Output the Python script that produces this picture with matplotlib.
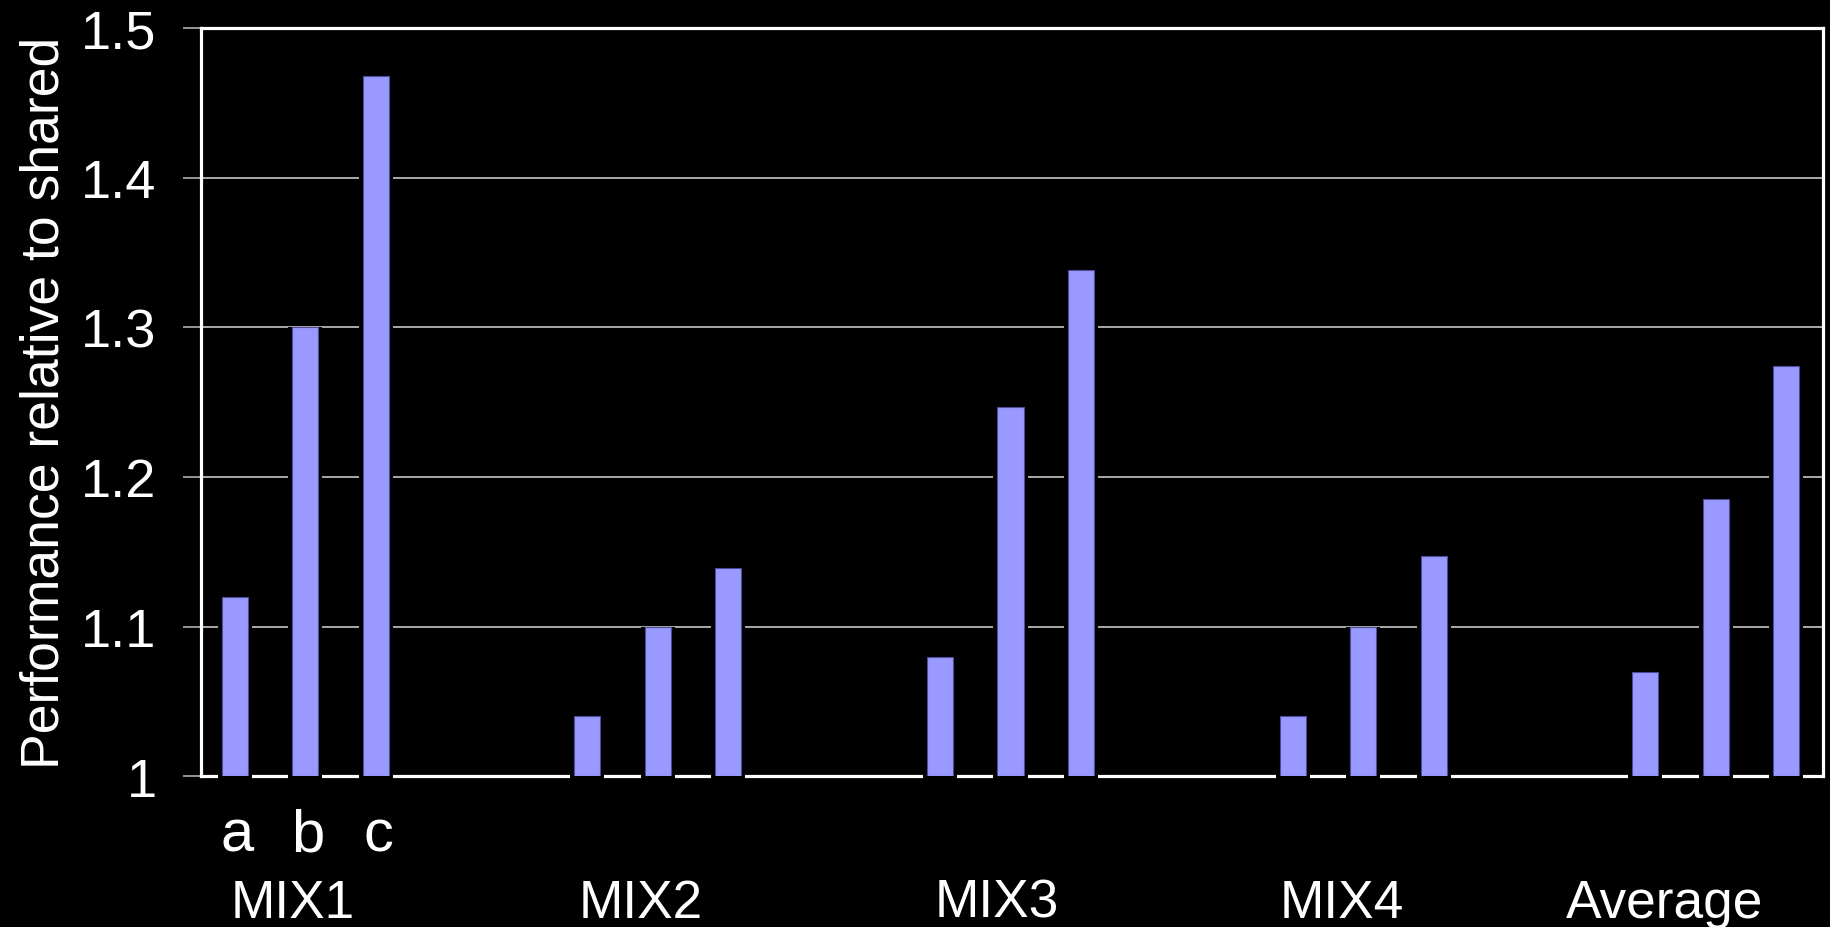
import matplotlib
matplotlib.use("Agg")
import matplotlib.pyplot as plt
import matplotlib.transforms as mtransforms
from matplotlib import font_manager
import numpy as np

# ---- data ----
categories = ["MIX1", "MIX2", "MIX3", "MIX4", "Average"]
series_names = ["a", "b", "c"]
values_a = [1.12, 1.04, 1.08, 1.04, 1.07]
values_b = [1.30, 1.10, 1.247, 1.10, 1.185]
values_c = [1.468, 1.139, 1.338, 1.147, 1.274]
y_ticks = [1.0, 1.1, 1.2, 1.3, 1.4, 1.5]
y_tick_labels = ["1", "1.1", "1.2", "1.3", "1.4", "1.5"]
y_label = "Performance relative to shared"

# ---- layout ----
label_left = [-0.213, 0.774, 1.786, 2.763, 3.574]   # left edges of category labels (data x)
offsets = [-0.2, 0.0, 0.2]
bar_w = 0.0738
halo_w = bar_w + 0.0227

plt.rcParams['font.family'] = ['Liberation Sans', 'DejaVu Sans']
names = {f.name for f in font_manager.fontManager.ttflist}
narrow = 'Liberation Sans Narrow' if 'Liberation Sans Narrow' in names else None

fig = plt.figure(figsize=(18.31, 9.28), dpi=100, facecolor='black')
ax = fig.add_axes([0.1100, 0.1624, 0.8855, 0.80635])
ax.set_facecolor('black')

x = np.arange(len(categories))
series = [values_a, values_b, values_c]
for off, vals in zip(offsets, series):
    v = np.array(vals)
    # black halo that breaks grid lines and the base line around bars
    ax.bar(x + off, v - 0.997, bottom=0.997, width=halo_w, color='black',
           edgecolor='none', zorder=3, clip_on=False)
    ax.bar(x + off, v - 1.0, bottom=1.0, width=bar_w, color='#9999FF',
           edgecolor='#4d4d99', linewidth=0.8, zorder=4)

ax.set_xlim(-0.295, 4.304)
ax.set_ylim(1.0, 1.5)
ax.set_yticks(y_ticks)
ax.set_yticklabels(y_tick_labels)
ax.set_xticks([])
ax.tick_params(axis='y', colors='#b0b0b0', length=13.3, width=1.2, pad=19,
               labelcolor='white', labelsize=39)
ax.set_axisbelow(True)
ax.yaxis.grid(True, color='#d8d8d8', linewidth=1.1)
for s in ax.spines.values():
    s.set_color('white')
    s.set_linewidth(2.3)

# y label
fig.text(58.3 / 1831, 1 - 403 / 928, y_label, rotation=90, rotation_mode='anchor',
         ha='center', va='baseline', color='white', fontsize=38.5)

# series letters under first group
trans = mtransforms.blended_transform_factory(ax.transData, fig.transFigure)
abc_kw = dict(color='white', ha='center', va='baseline', transform=trans)
if narrow:
    abc_kw.update(family=[narrow, 'Liberation Sans'], fontsize=47.5)
else:
    abc_kw.update(fontsize=43)
for off, name in zip(offsets, series_names):
    ax.text(0 + off + 0.007, 1 - 852 / 928, name, **abc_kw)

# category labels
for lx, cat in zip(label_left, categories):
    ax.text(lx, 1 - 918 / 928, cat, color='white', ha='left', va='baseline',
            fontsize=38.3, transform=trans)

fig.savefig("out.png", dpi=100, facecolor='black')
